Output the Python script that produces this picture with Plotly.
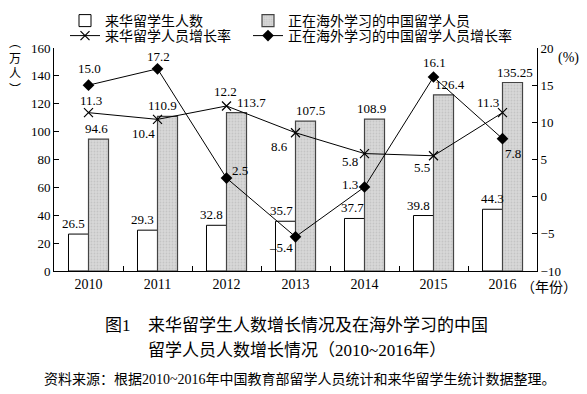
import plotly.graph_objects as go

# ---------------- data ----------------
years = ["2010", "2011", "2012", "2013", "2014", "2015", "2016"]
inbound_students = [26.5, 29.3, 32.8, 35.7, 37.7, 39.8, 44.3]          # 来华留学生人数 (万人)
outbound_students = [94.6, 110.9, 113.7, 107.5, 108.9, 126.4, 135.25]  # 正在海外学习的中国留学人员 (万人)
inbound_growth = [11.3, 10.4, 12.2, 8.6, 5.8, 5.5, 11.3]               # 来华留学人员增长率 (%)
outbound_growth = [15.0, 17.2, 2.5, -5.4, 1.3, 16.1, 7.8]              # 正在海外学习的中国留学人员增长率 (%)

series_names = ["来华留学生人数", "正在海外学习的中国留学人员",
                "来华留学人员增长率", "正在海外学习的中国留学人员增长率"]

# ---------------- label placement styles (pixel offsets) ----------------
inbound_bar_dx = [-5, -5, -5, -4, -2, -5, 0]
outbound_bar_dx = [-2, -5, 15, 5, -3, 6, 2]
inbound_growth_dx = [2, -14, -1, -16, -15, -12, -15]
inbound_growth_dy = [12, -14, 14, -14, -8, -12, 10]
outbound_growth_dx = [1, 1, 13, -15, -15, 1, 10]
outbound_growth_dy = [17, 12, 8, -11, 3, 14, -15]

# ---------------- layout geometry ----------------
W, H = 587, 394
L, R, T, B = 54, 50, 48, 123
PW, PH = W - L - R, H - T - B
BARGAP = 0.42
SERIF = "Liberation Serif, Noto Sans CJK SC"
CJK = "Liberation Serif, Noto Sans CJK SC"


def px_x(px):
    return (px - L) / PW


def px_y(py):
    return (H - B - py) / PH


def fmt_bar(v):
    return f"{v:g}"


def fmt_rate(v):
    return f"{v:.1f}".replace("-", "–")


fig = go.Figure()

fig.add_trace(go.Bar(
    x=years, y=inbound_students, name=series_names[0],
    marker=dict(color="white", line=dict(color="black", width=1)),
    legend="legend", legendwidth=138,
))
fig.add_trace(go.Bar(
    x=years, y=outbound_students, name=series_names[1],
    marker=dict(color="#d4d4d4", line=dict(color="#444444", width=1.2),
                pattern=dict(shape=".", fgcolor="#b0b0b0", bgcolor="#d8d8d8",
                             size=3, solidity=0.3)),
    legend="legend",
))
fig.add_trace(go.Scatter(
    x=years, y=inbound_growth, name=series_names[2], yaxis="y2",
    mode="lines+markers",
    line=dict(color="black", width=1),
    marker=dict(symbol="x-thin", size=9, color="black",
                line=dict(color="black", width=1.2)),
    legend="legend2", legendwidth=138,
))
fig.add_trace(go.Scatter(
    x=years, y=outbound_growth, name=series_names[3], yaxis="y2",
    mode="lines+markers",
    line=dict(color="black", width=1),
    marker=dict(symbol="diamond", size=9, color="black"),
    legend="legend2",
))

annotations = []
half = (1 - BARGAP) / 4  # centre offset of each bar within its group (category units)
for i, (v, dx) in enumerate(zip(inbound_students, inbound_bar_dx)):
    annotations.append(dict(x=i - half, y=v, xref="x", yref="y", text=fmt_bar(v),
                            showarrow=False, xanchor="center", yanchor="bottom",
                            xshift=dx, yshift=1,
                            font=dict(family=SERIF, size=13, color="black")))
for i, (v, dx) in enumerate(zip(outbound_students, outbound_bar_dx)):
    annotations.append(dict(x=i + half, y=v, xref="x", yref="y", text=fmt_bar(v),
                            showarrow=False, xanchor="center", yanchor="bottom",
                            xshift=dx, yshift=1,
                            font=dict(family=SERIF, size=13, color="black")))
for i, (v, dx, dy) in enumerate(zip(inbound_growth, inbound_growth_dx, inbound_growth_dy)):
    annotations.append(dict(x=i, y=v, xref="x", yref="y2", text=fmt_rate(v),
                            showarrow=False, xanchor="center", yanchor="middle",
                            xshift=dx, yshift=dy,
                            font=dict(family=SERIF, size=13, color="black")))
for i, (v, dx, dy) in enumerate(zip(outbound_growth, outbound_growth_dx, outbound_growth_dy)):
    annotations.append(dict(x=i, y=v, xref="x", yref="y2", text=fmt_rate(v),
                            showarrow=False, xanchor="center", yanchor="middle",
                            xshift=dx, yshift=dy,
                            font=dict(family=SERIF, size=13, color="black")))

# axis titles and captions
annotations += [
    dict(x=px_x(15), y=px_y(66), xref="paper", yref="paper",
         text="︵<br>万<br>人<br>︶", showarrow=False, xanchor="center", yanchor="middle",
         font=dict(family=CJK, size=12, color="black")),
    dict(x=px_x(556), y=px_y(58), xref="paper", yref="paper", text="(%)",
         showarrow=False, xanchor="left", yanchor="middle",
         font=dict(family=SERIF, size=14, color="black")),
    dict(x=px_x(519), y=px_y(287), xref="paper", yref="paper", text="（年份）",
         showarrow=False, xanchor="left", yanchor="middle",
         font=dict(family=CJK, size=14, color="black")),
    dict(x=px_x(103), y=px_y(325), xref="paper", yref="paper", text="图1",
         showarrow=False, xanchor="left", yanchor="middle",
         font=dict(family=CJK, size=17, color="black")),
    dict(x=px_x(146), y=px_y(325), xref="paper", yref="paper",
         text="来华留学生人数增长情况及在海外学习的中国",
         showarrow=False, xanchor="left", yanchor="middle",
         font=dict(family=CJK, size=17, color="black")),
    dict(x=px_x(146), y=px_y(350), xref="paper", yref="paper",
         text="留学人员人数增长情况（2010~2016年）",
         showarrow=False, xanchor="left", yanchor="middle",
         font=dict(family=CJK, size=17, color="black")),
    dict(x=px_x(42), y=px_y(379), xref="paper", yref="paper",
         text="资料来源：根据2010~2016年中国教育部留学人员统计和来华留学生统计数据整理。",
         showarrow=False, xanchor="left", yanchor="middle",
         font=dict(family=CJK, size=14, color="black")),
]

axis_common = dict(showline=True, linecolor="black", linewidth=1, ticks="inside",
                   ticklen=5, tickcolor="black", tickwidth=1, showgrid=False,
                   zeroline=False, automargin=False)

fig.update_layout(
    width=W, height=H,
    margin=dict(l=L, r=R, t=T, b=B, pad=0, autoexpand=False),
    paper_bgcolor="white", plot_bgcolor="white",
    barmode="group", bargap=BARGAP, bargroupgap=0,
    font=dict(family=SERIF, color="black"),
    xaxis=dict(type="category", range=[-0.5, 6.5], tickson="boundaries",
               tickfont=dict(family=SERIF, size=14, color="black"), **axis_common),
    yaxis=dict(range=[0, 160], dtick=20, tickfont=dict(family=SERIF, size=13, color="black"),
               **axis_common),
    yaxis2=dict(range=[-10, 20], dtick=5, overlaying="y", side="right",
                tickfont=dict(family=SERIF, size=13, color="black"), **axis_common),
    legend=dict(orientation="h", x=px_x(65), y=px_y(5), xanchor="left", yanchor="top",
                itemwidth=30,
                font=dict(family=CJK, size=14, color="black"),
                bgcolor="rgba(0,0,0,0)", borderwidth=0),
    legend2=dict(orientation="h", x=px_x(65), y=px_y(20), xanchor="left", yanchor="top",
                 itemwidth=30,
                 font=dict(family=CJK, size=14, color="black"),
                 bgcolor="rgba(0,0,0,0)", borderwidth=0),
    annotations=annotations,
)

fig.write_html("out.html",
               config={"displayModeBar": False},
               post_script="document.body.style.margin='0';document.body.style.overflow='hidden';")
